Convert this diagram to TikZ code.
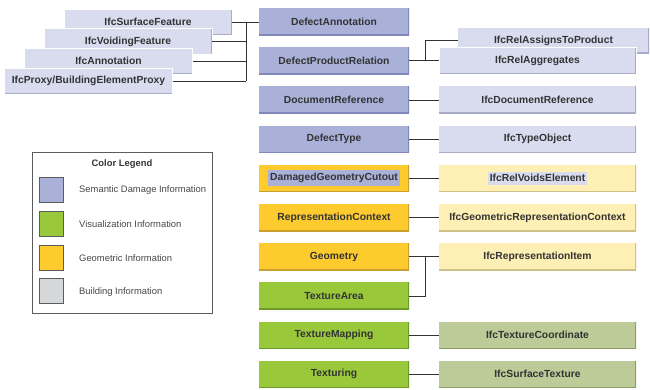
\documentclass[tikz,border=0pt]{standalone}
\usepackage{fontspec}
\setmainfont{Liberation Sans}
\usetikzlibrary{positioning}

\definecolor{sem}{HTML}{A9B1D9}
\definecolor{semedge}{HTML}{7F88B8}
\definecolor{semlight}{HTML}{D9DCEF}
\definecolor{semlightedge}{HTML}{A8ACC8}
\definecolor{geo}{HTML}{FDCB2E}
\definecolor{geoedge}{HTML}{C9A030}
\definecolor{geolight}{HTML}{FEEFB4}
\definecolor{geolightedge}{HTML}{CFC08A}
\definecolor{vis}{HTML}{99C93B}
\definecolor{visedge}{HTML}{6E9A28}
\definecolor{vislight}{HTML}{BCCB98}
\definecolor{vislightedge}{HTML}{8D9E6A}
\definecolor{bld}{HTML}{D6D7D9}
\definecolor{txt}{HTML}{333333}

\newcommand\entfont{\fontsize{10.3}{12}\selectfont\bfseries}
\newcommand\legfont{\fontsize{9.4}{11}\selectfont}

\tikzset{
    box/.style 2 args={fill=#1,text=txt,font=\entfont,inner sep=0pt,
        minimum width=150pt,minimum height=27pt,
        path picture={\draw[#2,line width=2pt](path picture bounding box.north east)--(path picture bounding box.south east)--(path picture bounding box.south west);}},
    mid/.style={minimum width=150pt},
    ifc/.style={minimum width=197pt},
    stack/.style={box={semlight}{semlightedge},minimum width=168pt,minimum height=26pt,draw=white,line width=0.8pt},
    link/.style={draw=txt,line width=0.8pt},
    swatch/.style={fill=#1,draw=txt!80,line width=0.6pt,minimum width=24pt,minimum height=25pt,inner sep=0pt},
    leglabel/.style={anchor=west,font=\legfont,text=txt!90,inner sep=0pt},
}

\begin{document}
\begin{tikzpicture}[x=1pt,y=-1pt]
    \useasboundingbox(0,0)rectangle(650,389);

    % building elements, stacked
    \node[stack](sf)at(148,22){IfcSurfaceFeature};
    \node[stack](vf)at(128,41.5){IfcVoidingFeature};
    \node[stack](an)at(108.5,61){IfcAnnotation};
    \node[stack](px)at(88.5,81){IfcProxy/BuildingElementProxy};

    % damage model classes
    \node[box={sem}{semedge},mid](da)at(334,21.5){DefectAnnotation};
    \node[box={sem}{semedge},mid](dpr)at(334,60.7){DefectProductRelation};
    \node[box={sem}{semedge},mid](dr)at(334,99.9){DocumentReference};
    \node[box={sem}{semedge},mid](dt)at(334,139.1){DefectType};
    \node[box={geo}{geoedge},mid](dgc)at(334,178.3){};
    \node[fill=sem,text=txt,font=\entfont,inner xsep=2pt,inner ysep=3pt]at(dgc){DamagedGeometryCutout};
    \node[box={geo}{geoedge},mid](rc)at(334,217.5){RepresentationContext};
    \node[box={geo}{geoedge},mid](gm)at(334,256.7){Geometry};
    \node[box={vis}{visedge},mid](ta)at(334,295.9){TextureArea};
    \node[box={vis}{visedge},mid](tm)at(334,335.1){TextureMapping};
    \node[box={vis}{visedge},mid](tx)at(334,374.3){Texturing};

    % IFC classes
    \node[box={semlight}{semlightedge},minimum width=191pt,minimum height=25pt](rap)at(553.5,40.5){IfcRelAssignsToProduct};
    \node[box={semlight}{semlightedge},ifc,draw=white,line width=0.8pt](rag)at(537.5,60.7){IfcRelAggregates};
    \node[box={semlight}{semlightedge},ifc](idr)at(537.5,99.9){IfcDocumentReference};
    \node[box={semlight}{semlightedge},ifc](ito)at(537.5,139.1){IfcTypeObject};
    \node[box={geolight}{geolightedge},ifc](rve)at(537.5,178.3){};
    \node[fill=semlight,text=txt,font=\entfont,inner xsep=2pt,inner ysep=3pt]at(rve){IfcRelVoidsElement};
    \node[box={geolight}{geolightedge},ifc](grc)at(537.5,217.5){IfcGeometricRepresentationContext};
    \node[box={geolight}{geolightedge},ifc](ri)at(537.5,256.7){IfcRepresentationItem};
    \node[box={vislight}{vislightedge},ifc](itc)at(537.5,335.1){IfcTextureCoordinate};
    \node[box={vislight}{vislightedge},ifc](ist)at(537.5,374.3){IfcSurfaceTexture};

    % connectors
    \coordinate(lj)at(246,22);
    \draw[link](sf.east)--(sf.east-|da.west);
    \draw[link](lj)--(lj|-px.east);
    \foreach \n in {vf,an,px}
        \draw[link](\n.east)--(\n.east-|lj);

    \coordinate(rj)at(425,60.7);
    \draw[link](dpr.east)--(dpr.east-|rag.west);
    \draw[link](rj)|-(rap.west);
    \foreach \a/\b in {dr/idr,dt/ito,dgc/rve,rc/grc,gm/ri,tm/itc,tx/ist}
        \draw[link](\a.east)--(\b.west);
    \coordinate(gj)at(425,256.7);
    \draw[link](gj)|-(ta.east);

    % legend
    \draw[draw=txt!80,line width=0.6pt](32,152)rectangle(212,313);
    \node[font=\legfont\bfseries,text=txt](lt)at(122,164){Color Legend};
    \node[swatch=sem](s1)at(51,189.5){};
    \node[swatch=vis](s2)at(51,224){};
    \node[swatch=geo](s3)at(51,257.5){};
    \node[swatch=bld](s4)at(51,291){};
    \node[leglabel]at(79,190.5){Semantic Damage Information};
    \node[leglabel]at(79,224.5){Visualization Information};
    \node[leglabel]at(79,258.5){Geometric Information};
    \node[leglabel]at(79,292){Building Information};
\end{tikzpicture}
\end{document}
